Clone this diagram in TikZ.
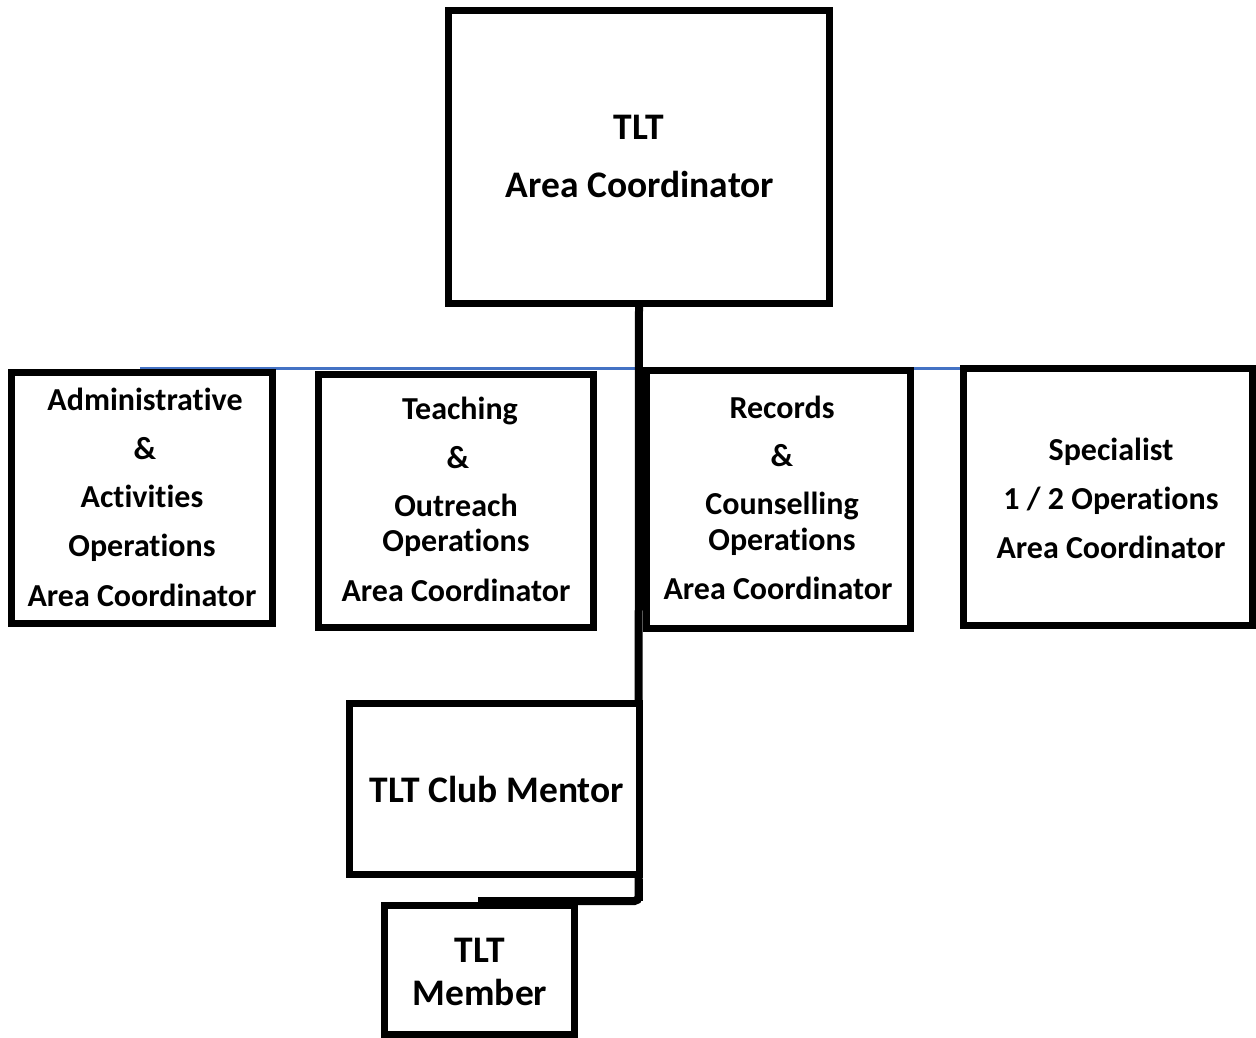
\documentclass[tikz,border=0pt]{standalone}
\usepackage{fontspec}
\setmainfont{Carlito}[Ligatures=NoCommon]
\definecolor{lineblue}{RGB}{68,114,196}
\begin{document}
\begin{tikzpicture}[x=1pt,y=-1pt,
  box/.style={draw=black,line width=7pt,fill=white,inner sep=0pt,outer sep=0pt},
  big/.style={font=\fontsize{37.5}{44}\selectfont\bfseries,anchor=base,inner sep=0pt},
  small/.style={font=\fontsize{32}{38}\selectfont\bfseries,anchor=base,inner sep=0pt},
  conn/.style={line width=8pt,draw=black,rounded corners=4pt},
  blueline/.style={line width=3pt,draw=lineblue}]
\useasboundingbox (0,0) rectangle (1256,1038);
% blue bar
\coordinate (bl) at (140,368);
\coordinate (br) at (960,368);
\draw[blueline] (bl) -- (br);
% boxes
\node[box,minimum width=381pt,minimum height=292pt] (top) at (639,157) {};
\node[box,minimum width=261pt,minimum height=251pt] (adm) at (142,498) {};
\node[box,minimum width=275pt,minimum height=253pt] (tea) at (456,501) {};
\node[box,minimum width=264pt,minimum height=258pt] (rec) at (778.5,499.5) {};
\node[box,minimum width=289pt,minimum height=257pt] (spe) at (1108,497) {};
% connectors
\coordinate (j1) at (638.5,901);
\coordinate (j2) at (478,901);
\draw[conn] (top.south) -- (j1) -- (j2);
\node[box,minimum width=290pt,minimum height=171pt] (men) at (494.5,789) {};
\node[box,minimum width=190pt,minimum height=129pt] (mem) at (479.5,970) {};
\draw[line width=8pt] (j1) -- ([yshift=-4pt]j1 |- men.south);
% texts
\node[big] (t1) at (639,140) {TLT};
\node[big] (t2) at (640,197) {Area Coordinator};
\node[small] (a1) at (145,410) {Administrative};
\node[small] (a2) at (145,459) {\&};
\node[small] (a3) at (142,507) {Activities};
\node[small] (a4) at (142,556) {Operations};
\node[small] (a5) at (142,606) {Area Coordinator};
\node[small] (b1) at (460,419) {Teaching};
\node[small] (b2) at (458,468) {\&};
\node[small] (b3) at (456,516) {Outreach};
\node[small] (b4) at (456,551) {Operations};
\node[small] (b5) at (456,601) {Area Coordinator};
\node[small] (c1) at (782,418) {Records};
\node[small] (c2) at (782,466) {\&};
\node[small] (c3) at (782,514) {Counselling};
\node[small] (c4) at (782,550) {Operations};
\node[small] (c5) at (778,599) {Area Coordinator};
\node[small] (d1) at (1111,460) {Specialist};
\node[small] (d2) at (1111,509) {1 / 2 Operations};
\node[small] (d3) at (1111,558) {Area Coordinator};
\node[big] (m1) at (497,802) {TLT Club Mentor};
\node[big] (n1) at (480,962) {TLT};
\node[big] (n2) at (480,1005) {Member};
\end{tikzpicture}
\end{document}
